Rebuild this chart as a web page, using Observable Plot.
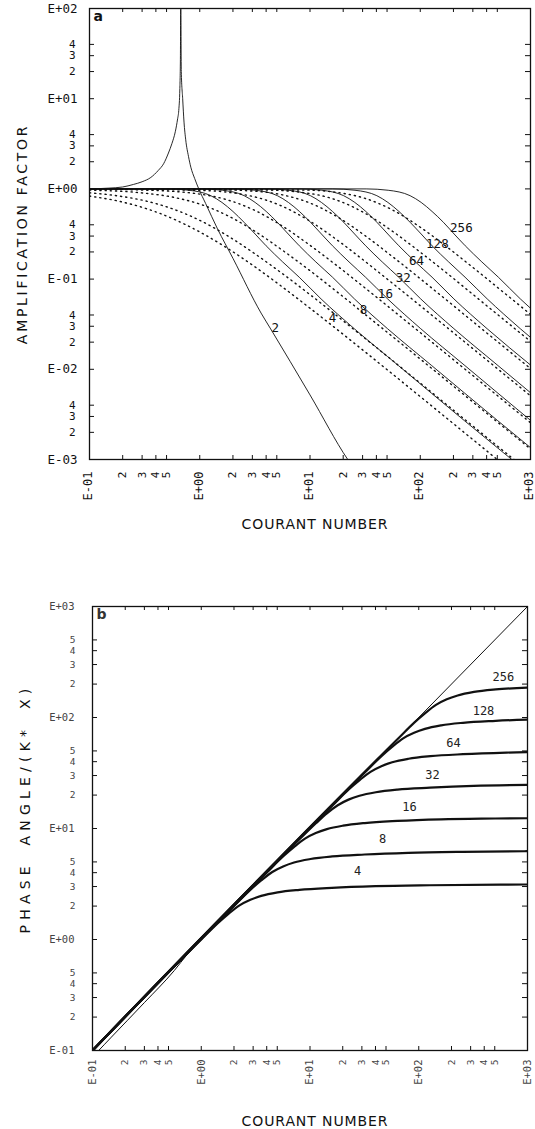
<!DOCTYPE html>
<html><head><meta charset="utf-8">
<script src="https://cdn.jsdelivr.net/npm/d3@7"></script>
<script src="https://cdn.jsdelivr.net/npm/@observablehq/plot@0.6"></script>
<style>
body{margin:0;background:#fff;}
#chart svg{display:block;}
</style></head><body><div id="chart"></div>
<script>
// ---------- tick values and labels ----------
const courantTicks = [0.1,0.2,0.3,0.4,0.5,1,2,3,4,5,10,20,30,40,50,100,200,300,400,500,1000];
const courantTickLabels = ["E-01","2","3","4","5","E+00","2","3","4","5","E+01","2","3","4","5","E+02","2","3","4","5","E+03"];
const ampTicks = [0.001,0.002,0.003,0.004,0.01,0.02,0.03,0.04,0.1,0.2,0.3,0.4,1,2,3,4,10,20,30,40,100];
const ampTickLabels = ["E-03","2","3","4","E-02","2","3","4","E-01","2","3","4","E+00","2","3","4","E+01","2","3","4","E+02"];
const phaseTicks = [0.1,0.2,0.3,0.4,0.5,1,2,3,4,5,10,20,30,40,50,100,200,300,400,500,1000];
const phaseTickLabels = ["E-01","2","3","4","5","E+00","2","3","4","5","E+01","2","3","4","5","E+02","2","3","4","5","E+03"];

// ---------- panel a: amplification factor (Courant number, factor) ----------
const ampSolid2 = [[0.1,1.0],[0.15,1.02],[0.2,1.05],[0.25,1.12],[0.3,1.2],[0.36,1.34],[0.42,1.6],[0.47,1.9],[0.52,2.5],[0.56,3.2],[0.6,4.3],[0.63,6.0],[0.645,7.4],[0.66,13],[0.668,30],[0.672,150],[0.68,20],[0.70,10],[0.72,5.5],[0.746,3.5],[0.79,2.3],[0.83,1.74],[0.9,1.3],[0.98,1.0],[1.13,0.69],[1.45,0.36],[2.0,0.17],[3.6,0.042],[4.4,0.028],[10,0.0052],[22,0.001],[25,0.0008]];
const ampSolid4 = [[0.1,1],[0.504,1],[0.8,0.966],[1.26,0.841],[1.59,0.708],[2.0,0.562],[2.52,0.427],[3.18,0.316],[4,0.234],[5.65,0.155],[7.98,0.105],[12.6,0.0603],[25.2,0.0282],[63.4,0.011],[252,0.00269],[1265,0.000537]];
const ampSolid8 = [[0.1,1],[1.01,1],[1.6,0.966],[2.53,0.841],[3.18,0.708],[4.01,0.562],[5.05,0.427],[6.35,0.316],[8,0.234],[11.3,0.155],[16,0.105],[25.3,0.0603],[50.5,0.0282],[127,0.011],[505,0.00269],[2530,0.000537]];
const ampSolid16 = [[0.1,1],[2.02,1],[3.2,0.966],[5.06,0.841],[6.37,0.708],[8.02,0.562],[10.1,0.427],[12.7,0.316],[16,0.234],[22.6,0.155],[31.9,0.105],[50.6,0.0603],[101,0.0282],[254,0.011],[1010,0.00269],[5060,0.000537]];
const ampSolid32 = [[0.1,1],[4.03,1],[6.4,0.966],[10.1,0.841],[12.7,0.708],[16,0.562],[20.2,0.427],[25.4,0.316],[32,0.234],[45.2,0.155],[63.8,0.105],[101,0.0603],[202,0.0282],[507,0.011],[2019,0.00269]];
const ampSolid64 = [[0.1,1],[8.06,1],[12.8,0.966],[20.2,0.841],[25.5,0.708],[32.1,0.562],[40.4,0.427],[50.8,0.316],[64,0.234],[90.4,0.155],[128,0.105],[202,0.0603],[404,0.0282],[1014,0.011]];
const ampSolid128 = [[0.1,1],[16.1,1],[25.6,0.966],[40.4,0.841],[50.9,0.708],[64.1,0.562],[80.8,0.427],[102,0.316],[128,0.234],[181,0.155],[255,0.105],[405,0.0603],[808,0.0282],[2029,0.011]];
const ampSolid256 = [[0.1,1],[32.3,1],[51.2,0.966],[80.9,0.841],[102,0.708],[128,0.562],[162,0.427],[203,0.316],[256,0.234],[362,0.155],[511,0.105],[809,0.0603],[1615,0.0282]];

const ampDot2 = [[0.1,0.833],[0.178,0.737],[0.316,0.613],[0.562,0.471],[1,0.333],[1.78,0.22],[3.16,0.137],[5.62,0.0817],[10,0.0476],[31.6,0.0156],[100,0.00498],[316,0.00158],[500,0.000999]];
const ampDot4 = [[0.1,0.906],[0.178,0.839],[0.316,0.74],[0.562,0.603],[1,0.448],[1.78,0.303],[3.16,0.191],[5.62,0.115],[10,0.0673],[31.6,0.022],[100,0.00703],[316,0.00223],[707,0.001]];
const ampDot8 = [[0.1,0.969],[0.316,0.897],[0.562,0.813],[1,0.679],[1.78,0.507],[3.16,0.339],[5.62,0.209],[10,0.124],[17.8,0.0713],[31.6,0.0406],[100,0.013],[316,0.00412],[1000,0.00131]];
const ampDot16 = [[0.1,0.992],[0.316,0.97],[1,0.876],[1.78,0.756],[3.16,0.577],[5.62,0.387],[10,0.237],[17.8,0.139],[31.6,0.0796],[56.2,0.0452],[100,0.0255],[316,0.00809],[1000,0.00256]];
const ampDot32 = [[0.1,0.998],[1,0.964],[3.16,0.815],[5.62,0.641],[10,0.438],[17.8,0.269],[31.6,0.157],[56.2,0.0895],[100,0.0507],[316,0.0161],[1000,0.00509]];
const ampDot64 = [[0.1,1],[1,0.991],[3.16,0.942],[5.62,0.859],[10,0.697],[17.8,0.488],[31.6,0.303],[56.2,0.177],[100,0.101],[178,0.057],[316,0.0321],[1000,0.0102]];
const ampDot128 = [[0.1,1],[3.16,0.984],[10,0.889],[17.8,0.745],[31.6,0.536],[56.2,0.338],[100,0.199],[178,0.114],[316,0.0643],[562,0.0362],[1000,0.0204]];
const ampDot256 = [[0.1,1],[10,0.968],[17.8,0.912],[31.6,0.785],[56.2,0.583],[100,0.376],[178,0.223],[316,0.128],[562,0.0723],[1000,0.0407]];

const ampLabelText = ["2","4","8","16","32","64","128","256"];
const ampLabelC = [4.85,16.0,30.5,48.3,70.3,92.3,143,236];
const ampLabelA = [0.029,0.0366,0.0449,0.0692,0.104,0.157,0.242,0.364];

// ---------- panel b: phase angle / (k*x) ----------
const phaseExact = [[0.1,0.1],[1000,1000]];
const phase2 = [[0.114,0.1],[0.147,0.13],[0.3,0.27],[0.565,0.525],[0.74,0.73],[1,1]];
const phase4 = [[0.1,0.1],[1.0,1.0],[1.42,1.40],[1.79,1.71],[2.25,2.03],[2.83,2.28],[3.56,2.47],[5.04,2.66],[7.98,2.80],[15.9,2.92],[40,3.02],[126,3.08],[1004,3.13]];
const phase8 = [[0.1,0.1],[2.0,2.0],[2.84,2.81],[3.58,3.42],[4.5,4.06],[5.66,4.55],[7.13,4.94],[10.1,5.31],[16,5.6],[31.8,5.83],[80,6.04],[253,6.17],[2008,6.26]];
const phase16 = [[0.1,0.1],[4.02,4.02],[5.68,5.62],[7.15,6.83],[8.99,8.11],[11.3,9.1],[14.3,9.87],[20.1,10.6],[31.9,11.2],[63.7,11.7],[160,12.1],[506,12.3],[4016,12.5]];
const phase32 = [[0.1,0.1],[8.03,8.03],[11.4,11.2],[14.3,13.7],[18,16.2],[22.6,18.2],[28.5,19.7],[40.3,21.2],[63.8,22.4],[127,23.3],[320,24.2],[1011,24.7]];
const phase64 = [[0.1,0.1],[16.1,16.1],[22.7,22.5],[28.6,27.3],[36,32.4],[45.3,36.4],[57,39.5],[80.6,42.5],[128,44.8],[255,46.7],[640,48.3],[2022,49.3]];
const phase128 = [[0.1,0.1],[32.1,32.1],[45.4,44.9],[57.2,54.7],[71.9,64.9],[90.6,72.8],[114,79],[161,85],[255,89.6],[509,93.3],[1280,96.6]];
const phase256 = [[0.1,0.1],[64.3,64.3],[90.9,89.9],[114,109],[144,130],[181,146],[228,158],[322,170],[511,179],[1019,186]];

const phaseLabelText = ["4","8","16","32","64","128","256"];
const phaseLabelC = [27.4,46.5,82.2,134,209,394,601];
const phaseLabelY = [4.1,7.96,15.5,30,58.4,113,229];

// ---------- build tables ----------
const toRows = (series) => series.flatMap(([name, pts]) => pts.map(([x, y]) => ({name, x, y})));
const solidRows = toRows([["2",ampSolid2],["4",ampSolid4],["8",ampSolid8],["16",ampSolid16],["32",ampSolid32],["64",ampSolid64],["128",ampSolid128],["256",ampSolid256]]);
const dotRows = toRows([["2",ampDot2],["4",ampDot4],["8",ampDot8],["16",ampDot16],["32",ampDot32],["64",ampDot64],["128",ampDot128],["256",ampDot256]]);
const phaseRows = toRows([["4",phase4],["8",phase8],["16",phase16],["32",phase32],["64",phase64],["128",phase128],["256",phase256]]);
const ampLabels = ampLabelText.map((t,i)=>({t, x: ampLabelC[i], y: ampLabelA[i]}));
const phaseLabels = phaseLabelText.map((t,i)=>({t, x: phaseLabelC[i], y: phaseLabelY[i]}));
const tickRows = (vals, labels) => vals.map((v,i)=>({v, label: labels[i], major: labels[i].length > 1}));
const xTickRows = tickRows(courantTicks, courantTickLabels);
const ampTickRows = tickRows(ampTicks, ampTickLabels);
const phaseTickRows = tickRows(phaseTicks, phaseTickLabels);

const W = 535;
const MONO = "'DejaVu Sans Mono', 'Liberation Mono', monospace";
const SANS = "'DejaVu Sans', 'Liberation Sans', sans-serif";

// ---------- panel a ----------
const A = {h: 545, mt: 8, mb: 86, ml: 89, mr: 5};
const aPH = A.h - A.mt - A.mb, aPW = W - A.ml - A.mr;
const chartA = Plot.plot({
  width: W, height: A.h,
  marginTop: A.mt, marginBottom: A.mb, marginLeft: A.ml, marginRight: A.mr,
  x: {type: "log", domain: [0.1, 1000], axis: null},
  y: {type: "log", domain: [0.001, 100], axis: null},
  style: {fontFamily: MONO, fontSize: "12.5px", color: "#111", background: "white"},
  marks: [
    Plot.frame({stroke: "#111", strokeWidth: 1.3}),
    Plot.tickX(courantTicks, {x: d => d, insetTop: aPH - 4, stroke: "#111"}),
    Plot.tickX(courantTicks, {x: d => d, insetBottom: aPH - 4, stroke: "#111"}),
    Plot.tickY(ampTicks, {y: d => d, insetRight: aPW - 5, stroke: "#111"}),
    Plot.tickY(ampTicks, {y: d => d, insetLeft: aPW - 5, stroke: "#111"}),
    Plot.text(xTickRows.filter(d => d.major), {x: "v", text: "label", frameAnchor: "bottom", dy: 12, dx: -1, rotate: -90, textAnchor: "end", lineAnchor: "middle", fill: "#111", fontSize: 12}),
    Plot.text(xTickRows.filter(d => !d.major), {x: "v", text: "label", frameAnchor: "bottom", dy: 12, rotate: -90, textAnchor: "end", lineAnchor: "middle", fill: "#111", fontSize: 11}),
    Plot.text(ampTickRows.filter(d => d.major), {y: "v", text: "label", frameAnchor: "left", dx: -12, textAnchor: "end", lineAnchor: "middle", fill: "#111", fontSize: 12.5}),
    Plot.text(ampTickRows.filter(d => !d.major), {y: "v", text: "label", frameAnchor: "left", dx: -14, textAnchor: "end", lineAnchor: "middle", fill: "#111", fontSize: 11}),
    Plot.line(dotRows, {x: "x", y: "y", z: "name", curve: "monotone-x", stroke: "#111", strokeWidth: 1.4, strokeDasharray: "1.2 4", clip: true}),
    Plot.line(solidRows, {x: "x", y: "y", z: "name", curve: "monotone-x", stroke: "#111", strokeWidth: 0.9, clip: true}),
    Plot.text(ampLabels, {x: "x", y: "y", text: "t", fontSize: 12.5, fill: "#111"}),
    Plot.text(["a"], {frameAnchor: "top-left", dx: 4, dy: 3, lineAnchor: "top", textAnchor: "start", fontWeight: "bold", fontSize: 14, fontFamily: SANS}),
    Plot.text(["COURANT NUMBER"], {frameAnchor: "bottom", dx: 5, dy: 69, textAnchor: "middle", fontSize: 14, fontFamily: SANS, fill: "#111"}),
    Plot.text(["AMPLIFICATION FACTOR"], {frameAnchor: "left", dx: -67, rotate: -90, textAnchor: "middle", fontSize: 14, fontFamily: SANS, fill: "#111"})
  ]
});

// ---------- panel b ----------
const B = {h: 584, mt: 61, mb: 79, ml: 92, mr: 8};
const bPH = B.h - B.mt - B.mb, bPW = W - B.ml - B.mr;
const chartB = Plot.plot({
  width: W, height: B.h,
  marginTop: B.mt, marginBottom: B.mb, marginLeft: B.ml, marginRight: B.mr,
  x: {type: "log", domain: [0.1, 1000], axis: null},
  y: {type: "log", domain: [0.1, 1000], axis: null},
  style: {fontFamily: MONO, fontSize: "10.5px", color: "#333", background: "white"},
  marks: [
    Plot.frame({stroke: "#111", strokeWidth: 1.3}),
    Plot.tickX(courantTicks, {x: d => d, insetTop: bPH - 4, stroke: "#111"}),
    Plot.tickX(courantTicks, {x: d => d, insetBottom: bPH - 4, stroke: "#111"}),
    Plot.tickY(phaseTicks, {y: d => d, insetRight: bPW - 5, stroke: "#111"}),
    Plot.tickY(phaseTicks, {y: d => d, insetLeft: bPW - 5, stroke: "#111"}),
    Plot.text(xTickRows.filter(d => d.major), {x: "v", text: "label", frameAnchor: "bottom", dy: 9, rotate: -90, textAnchor: "end", lineAnchor: "middle", fill: "#444", fontSize: 10.5}),
    Plot.text(xTickRows.filter(d => !d.major), {x: "v", text: "label", frameAnchor: "bottom", dy: 9, rotate: -90, textAnchor: "end", lineAnchor: "middle", fill: "#444", fontSize: 9.5}),
    Plot.text(phaseTickRows.filter(d => d.major), {y: "v", text: "label", frameAnchor: "left", dx: -18, textAnchor: "end", lineAnchor: "middle", fill: "#444", fontSize: 10.5}),
    Plot.text(phaseTickRows.filter(d => !d.major), {y: "v", text: "label", frameAnchor: "left", dx: -17, textAnchor: "end", lineAnchor: "middle", fill: "#444", fontSize: 9.5}),
    Plot.line(phaseExact, {x: d => d[0], y: d => d[1], stroke: "#111", strokeWidth: 1, clip: true}),
    Plot.line(phase2, {x: d => d[0], y: d => d[1], curve: "monotone-x", stroke: "#111", strokeWidth: 1, clip: true}),
    Plot.line(phaseRows, {x: "x", y: "y", z: "name", curve: "monotone-x", stroke: "#111", strokeWidth: 2.2, clip: true}),
    Plot.text(phaseLabels, {x: "x", y: "y", text: "t", fontSize: 12, fill: "#222"}),
    Plot.text(["b"], {frameAnchor: "top-left", dx: 4, dy: 3, lineAnchor: "top", textAnchor: "start", fontWeight: "bold", fontSize: 14, fontFamily: SANS}),
    Plot.text(["COURANT NUMBER"], {frameAnchor: "bottom", dx: 5, dy: 75, textAnchor: "middle", fontSize: 14, fontFamily: SANS, fill: "#111"}),
    Plot.text(["PHASE ANGLE/(K* X)"], {frameAnchor: "left", dx: -67, dy: -20, rotate: -90, textAnchor: "middle", fontSize: 14, fontFamily: SANS, fill: "#111"})
  ]
});

const root = document.getElementById("chart");
root.appendChild(chartA);
root.appendChild(chartB);
// letter spacing for the plotter-style titles
d3.selectAll("svg text").filter(function(){ return this.textContent === "COURANT NUMBER"; }).style("letter-spacing", "0.9px");
d3.selectAll("svg text").filter(function(){ return this.textContent === "AMPLIFICATION FACTOR"; }).style("letter-spacing", "2.7px");
d3.selectAll("svg text").filter(function(){ return this.textContent === "PHASE ANGLE/(K* X)"; }).style("letter-spacing", "5.2px").style("word-spacing", "6px");
</script></body></html>
